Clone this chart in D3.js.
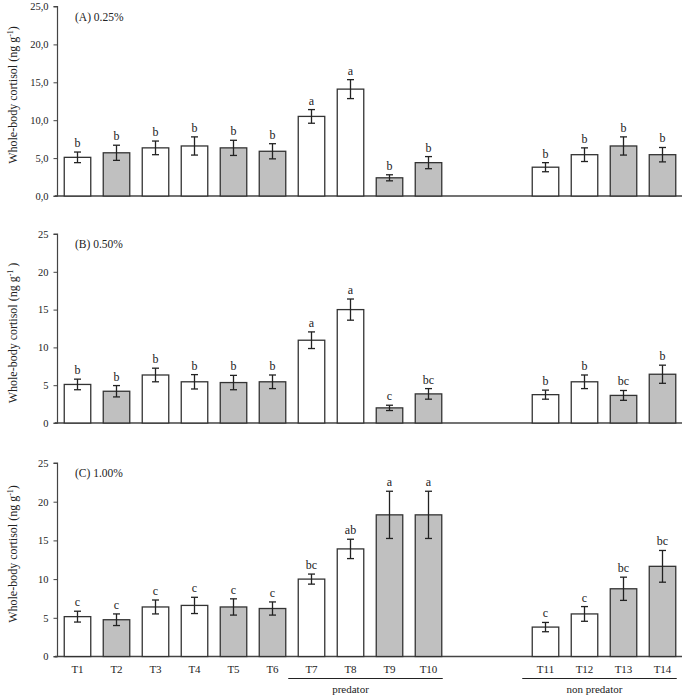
<!DOCTYPE html>
<html><head><meta charset="utf-8">
<script src="https://cdn.jsdelivr.net/npm/d3@7"></script>
<style>
body{margin:0;background:#fff;}
text{font-family:"Liberation Serif","Times New Roman",serif;fill:#222;}
</style></head>
<body><svg id="chart" width="686" height="698"></svg>
<script>
// ---- data ----
const categories = ["T1","T2","T3","T4","T5","T6","T7","T8","T9","T10","T11","T12","T13","T14"];
const slots = ["T1","T2","T3","T4","T5","T6","T7","T8","T9","T10","gap1","gap2","T11","T12","T13","T14"];
const shaded = [0,1,0,0,1,1,0,0,1,1,0,0,1,1];

const meanA = [5.1,5.7,6.35,6.6,6.35,5.9,10.5,14.1,2.4,4.4,3.8,5.45,6.6,5.45];
const errA  = [0.7,1.0,0.9,1.2,1.0,1.0,0.9,1.25,0.4,0.8,0.6,0.9,1.2,0.95];
const letA  = ["b","b","b","b","b","b","a","a","b","b","b","b","b","b"];

const meanB = [5.1,4.2,6.35,5.45,5.35,5.45,10.95,15.0,2.0,3.85,3.75,5.45,3.65,6.45];
const errB  = [0.7,0.75,0.9,0.95,0.95,0.9,1.1,1.4,0.35,0.7,0.6,0.9,0.65,1.2];
const letB  = ["b","b","b","b","b","b","a","a","c","bc","b","b","bc","b"];

const meanC = [5.15,4.75,6.4,6.6,6.4,6.2,10.0,13.9,18.3,18.3,3.8,5.5,8.75,11.65];
const errC  = [0.7,0.75,0.9,1.05,1.05,0.85,0.65,1.25,3.05,3.05,0.6,0.95,1.5,2.05];
const letC  = ["c","c","c","c","c","c","bc","ab","a","a","c","c","bc","bc"];

const yTicks = [0,5,10,15,20,25];
const panelTitles = ["(A) 0.25%","(B) 0.50%","(C) 1.00%"];
const groupLabels = ["predator","non predator"];

// ---- layout ----
const svg = d3.select("#chart");
const x = d3.scaleBand().domain(slots).range([58,682]).paddingInner(0.32).paddingOuter(0.16);
const bw = x.bandwidth();

const panels = [
  {mean:meanA, err:errA, let:letA, top:6.5, bottom:196, fmt:d=>d3.format(".1f")(d).replace(".",","), labelY:95, sp:""},
  {mean:meanB, err:errB, let:letB, top:234, bottom:423, fmt:d3.format("d"), labelY:333, sp:" "},
  {mean:meanC, err:errC, let:letC, top:463, bottom:656.5, fmt:d3.format("d"), labelY:554, sp:""}
];

panels.forEach((p,pi)=>{
  const y = d3.scaleLinear().domain([0,25]).range([p.bottom,p.top]);
  const g = svg.append("g");
  // y axis
  const ax = g.append("g").attr("transform","translate(57.5,0)")
    .call(d3.axisLeft(y).tickValues(yTicks).tickSize(4).tickPadding(5).tickFormat(p.fmt));
  ax.select(".domain").attr("stroke","#444").attr("stroke-width",1.2).attr("d",`M-4,${y(25)}H0V${y(0)}H-4`);
  ax.selectAll(".tick line").attr("stroke","#444");
  ax.selectAll(".tick text").attr("font-size",10.5).attr("fill","#333").style("font-family","Liberation Serif");
  // baseline
  g.append("line").attr("x1",55).attr("x2",682).attr("y1",y(0)).attr("y2",y(0))
    .attr("stroke","#444").attr("stroke-width",1.3);
  // bars
  categories.forEach((c,i)=>{
    const v = p.mean[i], e = p.err[i];
    const cx = x(c)+bw/2;
    g.append("rect").attr("x",x(c)).attr("y",y(v)).attr("width",bw).attr("height",y(0)-y(v))
      .attr("fill",shaded[i]?"#c0c0c0":"#ffffff").attr("stroke","#333").attr("stroke-width",1.3);
    const eg = g.append("g").attr("stroke","#222").attr("stroke-width",1.3);
    eg.append("line").attr("x1",cx).attr("x2",cx).attr("y1",y(v+e)).attr("y2",y(v-e));
    eg.append("line").attr("x1",cx-3.5).attr("x2",cx+3.5).attr("y1",y(v+e)).attr("y2",y(v+e));
    eg.append("line").attr("x1",cx-3.5).attr("x2",cx+3.5).attr("y1",y(v-e)).attr("y2",y(v-e));
    g.append("text").attr("x",cx).attr("y",y(v+e)-5).attr("text-anchor","middle")
      .attr("font-size",12).text(p.let[i]);
  });
  // panel title
  g.append("text").attr("x",75).attr("y",p.top+14).attr("font-size",11.5).text(panelTitles[pi]);
  // y label
  const yl = g.append("text").attr("transform",`translate(17,${p.labelY}) rotate(-90)`)
    .attr("text-anchor","middle").attr("font-size",12);
  yl.append("tspan").text("Whole-body cortisol (ng g");
  yl.append("tspan").attr("font-size",8).attr("dy",-4).text("-1");
  yl.append("tspan").attr("dy",4).text(p.sp+")");
  // x labels on last panel
  if(pi===2){
    categories.forEach(c=>{
      g.append("text").attr("x",x(c)+bw/2).attr("y",p.bottom+16).attr("text-anchor","middle")
        .attr("font-size",11).text(c);
    });
    const groups = [["T7","T10",-10, "T8"],["T11","T14",-10,null]];
    groups.forEach((gr,gi)=>{
      const x1 = x(gr[0])+gr[2], x2 = Math.min(x(gr[1])+bw+1,682);
      g.append("line").attr("x1",x1).attr("x2",x2).attr("y1",p.bottom+22).attr("y2",p.bottom+22)
        .attr("stroke","#222").attr("stroke-width",1);
      const tx = gr[3] ? x(gr[3])+bw/2 : (x1+x2)/2-5;
      g.append("text").attr("x",tx).attr("y",p.bottom+36).attr("text-anchor","middle")
        .attr("font-size",11).text(groupLabels[gi]);
    });
  }
});
</script></body></html>
